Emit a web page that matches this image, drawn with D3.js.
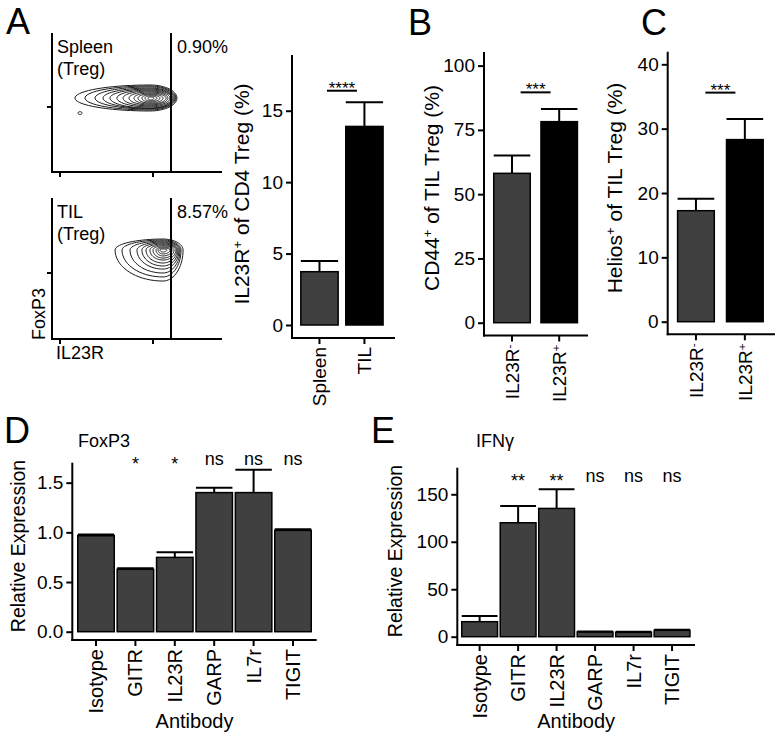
<!DOCTYPE html>
<html><head><meta charset="utf-8">
<script src="https://cdn.jsdelivr.net/npm/d3@7"></script>
<style>
body{margin:0;background:#fff}
text{font-family:"Liberation Sans",Arial,Helvetica,sans-serif;fill:#000}
</style>
</head><body>
<svg id="c" width="782" height="740"></svg>
<script>
// ================= DATA =================
// Panel A – flow plots (arbitrary 0-100 fluorescence units)
const flowTicksX = [4.7, 59.4];
const flowTicksY = [46.8];
const gateX = 70.0;
const spleenText = ["Spleen", "(Treg)"];
const tilText = ["TIL", "(Treg)"];
const spleenPct = "0.90%";
const tilPct = "8.57%";
// contour rings: core centre and left/right/top/bottom extent of each ring
const spleenCore = [57.6, 53.2];
const spleenRingL = [13.5,19.4,25.3,30.0,34.1,38.2,41.8,45.3,48.2,50.6,52.9,54.7,56.5];
const spleenRingR = [73.5,72.9,72.4,71.8,71.2,70.6,69.4,68.2,67.1,65.3,63.5,61.8,60.0];
const spleenRingT = [62.6,61.9,61.2,60.4,59.7,59.0,58.3,57.6,56.8,56.1,55.4,54.7,54.0];
const spleenRingB = [43.9,44.6,45.3,45.7,46.0,46.8,47.5,48.2,48.9,49.6,50.4,51.1,51.8];
const spleenDot = [16.5, 42.4];
const tilCore = [65.3, 63.1];
const tilRingL = [37.1,41.2,45.9,50.0,52.9,55.3,57.6,59.4,61.2,62.4,63.5];
const tilRingR = [77.1,75.9,75.3,74.7,74.1,73.5,72.9,71.8,70.6,69.4,67.6];
const tilRingT = [70.9,70.2,69.5,68.8,68.1,67.4,66.7,66.0,65.2,64.5,63.8];
const tilRingB = [41.1,44.0,46.8,49.6,51.8,53.9,56.0,57.4,58.9,60.3,61.7];

// Panel A bar chart
const aCats = ["Spleen", "TIL"];
const aVals = [3.73, 13.9];
const aErrTop = [4.48, 15.6];
const aTicks = [0, 5, 10, 15];
const aSigLevel = 16.4;
const aStars = "****";

// Panel B
const bCats = ["IL23R-", "IL23R+"];
const bVals = [58.1, 78.2];
const bErrTop = [65.0, 83.1];
const bTicks = [0, 25, 50, 75, 100];
const bSigLevel = 89.6;
const bStars = "***";

// Panel C
const cCats = ["IL23R-", "IL23R+"];
const cVals = [17.25, 28.3];
const cErrTop = [19.1, 31.5];
const cTicks = [0, 10, 20, 30, 40];
const cSigLevel = 35.6;
const cStars = "***";

// Panels D / E
const antibodies = ["Isotype", "GITR", "IL23R", "GARP", "IL7r", "TIGIT"];
const foxp3Vals = [0.966, 0.628, 0.748, 1.40, 1.40, 1.02];
const foxp3ErrTop = [0.978, 0.638, 0.80, 1.45, 1.63, 1.032];
const foxp3Sig = ["", "*", "*", "ns", "ns", "ns"];
const foxp3SigLevel = 1.73;
const foxp3Ticks = [0, 0.5, 1.0, 1.5];
const ifngVals = [15.8, 120, 135.1, 5.0, 4.6, 6.7];
const ifngErrTop = [21.8, 137.6, 155.4, 5.6, 5.2, 7.3];
const ifngSig = ["", "**", "**", "ns", "ns", "ns"];
const ifngSigLevel = 168.5;
const ifngTicks = [0, 50, 100, 150];

// ================= DRAWING =================
const svg = d3.select("#c");
const DARK = "#404040";

function label(sel, parts) {
  parts.forEach(p => {
    const t = sel.append("tspan").text(p.t);
    if (p.sup) t.attr("baseline-shift", "super").attr("font-size", "0.62em");
  });
  return sel;
}
function catParts(c) {
  const m = c.match(/^(.*?)([+-])$/);
  return m ? [{t: m[1]}, {t: m[2], sup: true}] : [{t: c}];
}

// ---------- flow plots ----------
const flowX = d3.scaleLinear().domain([0, 100]).range([52, 222]);
function flowPlot(yRange, core, L, R, T, B, texts, pct, dot) {
  const y = d3.scaleLinear().domain([0, 100]).range(yRange);
  const g = svg.append("g");
  const path = d3.line().x(d => flowX(d[0])).y(d => y(d[1])).curve(d3.curveLinearClosed);
  const N = 72;
  L.forEach((l, i) => {
    const pts = d3.range(N).map(k => {
      const a = 2 * Math.PI * k / N, c = Math.cos(a), s = Math.sin(a);
      const xr = c < 0 ? core[0] - l : R[i] - core[0];
      const yr = s > 0 ? T[i] - core[1] : core[1] - B[i];
      return [core[0] + c * xr, core[1] + s * yr];
    });
    g.append("path").attr("d", path(pts)).attr("fill", "none")
      .attr("stroke", "#1a1a1a").attr("stroke-width", 1);
  });
  if (dot) {
    const pts = d3.range(24).map(k => {
      const a = 2 * Math.PI * k / 24;
      return [dot[0] + 1.2 * Math.cos(a), dot[1] + 1.0 * Math.sin(a)];
    });
    g.append("path").attr("d", path(pts)).attr("fill", "none").attr("stroke", "#1a1a1a").attr("stroke-width", 1);
  }
  g.append("line").attr("x1", flowX(0)).attr("x2", flowX(0)).attr("y1", y(100)).attr("y2", y(0))
    .attr("stroke", "#000").attr("stroke-width", 2);
  g.append("line").attr("x1", flowX(0) - 1).attr("x2", flowX(100)).attr("y1", y(0)).attr("y2", y(0))
    .attr("stroke", "#000").attr("stroke-width", 2);
  flowTicksX.forEach(v => g.append("line").attr("x1", flowX(v)).attr("x2", flowX(v))
    .attr("y1", y(0)).attr("y2", y(0) + 5).attr("stroke", "#000").attr("stroke-width", 2));
  flowTicksY.forEach(v => g.append("line").attr("x1", flowX(0) - 5).attr("x2", flowX(0))
    .attr("y1", y(v)).attr("y2", y(v)).attr("stroke", "#000").attr("stroke-width", 2));
  g.append("line").attr("x1", flowX(gateX)).attr("x2", flowX(gateX)).attr("y1", y(100)).attr("y2", y(0))
    .attr("stroke", "#000").attr("stroke-width", 2);
  g.append("text").attr("x", flowX(0) + 5).attr("y", y(100) + 20).attr("font-size", 18).text(texts[0]);
  g.append("text").attr("x", flowX(0) + 5).attr("y", y(100) + 42).attr("font-size", 18).text(texts[1]);
  g.append("text").attr("x", flowX(gateX) + 6).attr("y", y(100) + 20).attr("font-size", 18).text(pct);
  return y;
}
flowPlot([172, 33], spleenCore, spleenRingL, spleenRingR, spleenRingT, spleenRingB, spleenText, spleenPct, spleenDot);
flowPlot([339, 198], tilCore, tilRingL, tilRingR, tilRingT, tilRingB, tilText, tilPct, null);
svg.append("text").attr("transform", "translate(45,340) rotate(-90)").attr("font-size", 18).text("FoxP3");
svg.append("text").attr("x", 56).attr("y", 359).attr("font-size", 18).text("IL23R");

// ---------- bar panels ----------
function barPanel(o) {
  const g = svg.append("g");
  const y = d3.scaleLinear().domain([0, o.yMax]).range([o.y0, o.yTop]);
  const x = d3.scaleBand().domain(o.cats).range(o.xRange).paddingInner(o.pad).paddingOuter(o.pad / 2);
  const bw = x.bandwidth();
  g.append("line").attr("x1", o.axisX).attr("x2", o.axisX).attr("y1", o.yTop).attr("y2", o.baseY + 1)
    .attr("stroke", "#000").attr("stroke-width", 2);
  g.append("line").attr("x1", o.axisX - 1).attr("x2", o.xEnd).attr("y1", o.baseY).attr("y2", o.baseY)
    .attr("stroke", "#000").attr("stroke-width", 2);
  const ag = g.append("g").attr("transform", `translate(${o.axisX},0)`)
    .call(d3.axisLeft(y).tickValues(o.ticks).tickSize(6).tickSizeOuter(0).tickPadding(3).tickFormat(o.fmt));
  ag.select(".domain").remove();
  ag.selectAll("line").attr("stroke", "#000").attr("stroke-width", 2);
  ag.selectAll("text").attr("font-size", 19).attr("font-family", null).attr("fill", "#000");
  o.cats.forEach(c => {
    const cx = x(c) + bw / 2;
    g.append("line").attr("x1", cx).attr("x2", cx).attr("y1", o.baseY).attr("y2", o.baseY + 6)
      .attr("stroke", "#000").attr("stroke-width", 2);
    const t = g.append("text").attr("transform", `translate(${cx},${o.baseY + 9}) rotate(-90)`)
      .attr("text-anchor", "end").attr("dy", "0.35em").attr("font-size", o.xTickSize || 19);
    label(t, catParts(c));
  });
  g.selectAll("rect.bar").data(o.vals).join("rect").attr("class", "bar")
    .attr("x", (d, i) => x(o.cats[i])).attr("y", d => y(d))
    .attr("width", bw).attr("height", d => y(0) - y(d))
    .attr("fill", (d, i) => o.fills[i]).attr("stroke", "#000").attr("stroke-width", 1.5);
  o.errTop.forEach((e, i) => {
    const cx = x(o.cats[i]) + bw / 2;
    g.append("line").attr("x1", cx).attr("x2", cx).attr("y1", y(o.vals[i])).attr("y2", y(e))
      .attr("stroke", "#000").attr("stroke-width", 2);
    g.append("line").attr("x1", x(o.cats[i])).attr("x2", x(o.cats[i]) + bw).attr("y1", y(e)).attr("y2", y(e))
      .attr("stroke", "#000").attr("stroke-width", 2);
  });
  if (o.sigLevel !== undefined) {
    const mid = (x(o.cats[0]) + x(o.cats[1]) + bw) / 2;
    g.append("line").attr("x1", mid - 15).attr("x2", mid + 15).attr("y1", y(o.sigLevel)).attr("y2", y(o.sigLevel))
      .attr("stroke", "#000").attr("stroke-width", 2);
    g.append("text").attr("x", mid).attr("y", y(o.sigLevel) + 3).attr("text-anchor", "middle")
      .attr("font-size", 17).text(o.stars);
  }
  if (o.ann) {
    o.ann.forEach((a, i) => {
      if (!a) return;
      const isStar = a.indexOf("*") >= 0;
      g.append("text").attr("x", x(o.cats[i]) + bw / 2).attr("y", y(o.annLevel))
        .attr("dy", isStar ? "0.57em" : "0.27em").attr("text-anchor", "middle")
        .attr("font-size", 18).text(a);
    });
  }
  const yt = g.append("text").attr("transform", `translate(${o.titleX},${o.titleY}) rotate(-90)`)
    .attr("text-anchor", "middle").attr("font-size", o.titleSize || 21);
  label(yt, o.title);
  if (o.xTitle) {
    g.append("text").attr("x", (o.axisX + o.xEnd) / 2).attr("y", 728).attr("text-anchor", "middle")
      .attr("font-size", 20).text(o.xTitle);
  }
  return g;
}

barPanel({cats: aCats, vals: aVals, errTop: aErrTop, ticks: aTicks, fmt: d3.format("d"),
  fills: [DARK, "#000"], sigLevel: aSigLevel, stars: aStars,
  axisX: 292, yTop: 55, y0: 325, baseY: 338, xEnd: 395, xRange: [297, 386.9], pad: 0.17, yMax: 18.9,
  titleX: 249, titleY: 194, title: [{t: "IL23R"}, {t: "+", sup: true}, {t: " of CD4 Treg (%)"}]});

barPanel({cats: bCats, vals: bVals, errTop: bErrTop, ticks: bTicks, fmt: d3.format("d"),
  fills: [DARK, "#000"], sigLevel: bSigLevel, stars: bStars,
  axisX: 484, yTop: 52, y0: 322.7, baseY: 335.5, xEnd: 588, xRange: [488.4, 582.8], pad: 0.227, yMax: 105.3,
  titleX: 439, titleY: 188, title: [{t: "CD44"}, {t: "+", sup: true}, {t: " of TIL Treg (%)"}]});

barPanel({cats: cCats, vals: cVals, errTop: cErrTop, ticks: cTicks, fmt: d3.format("d"),
  fills: [DARK, "#000"], sigLevel: cSigLevel, stars: cStars,
  axisX: 667.7, yTop: 51.7, y0: 321.7, baseY: 334.3, xEnd: 775, xRange: [671.5, 769.3], pad: 0.25, yMax: 41.96,
  titleX: 622, titleY: 188, title: [{t: "Helios"}, {t: "+", sup: true}, {t: " of TIL Treg (%)"}]});

barPanel({cats: antibodies, vals: foxp3Vals, errTop: foxp3ErrTop, ticks: foxp3Ticks, fmt: d3.format(".1f"),
  fills: antibodies.map(() => DARK), ann: foxp3Sig, annLevel: foxp3SigLevel, xTickSize: 20, titleSize: 19.5,
  axisX: 72.3, yTop: 462.7, y0: 631.7, baseY: 640, xEnd: 316.7, xRange: [76.3, 312.7], pad: 0.074, yMax: 1.701,
  titleX: 25, titleY: 546, title: [{t: "Relative Expression"}], xTitle: "Antibody"});

barPanel({cats: antibodies, vals: ifngVals, errTop: ifngErrTop, ticks: ifngTicks, fmt: d3.format("d"),
  fills: antibodies.map(() => DARK), ann: ifngSig, annLevel: ifngSigLevel, xTickSize: 20, titleSize: 19.5,
  axisX: 457.3, yTop: 467.7, y0: 636.7, baseY: 645, xEnd: 695, xRange: [460.4, 691.3], pad: 0.07, yMax: 178,
  titleX: 402, titleY: 551, title: [{t: "Relative Expression"}], xTitle: "Antibody"});

svg.append("text").attr("x", 78).attr("y", 447).attr("font-size", 18).text("FoxP3");
svg.append("text").attr("x", 476).attr("y", 447).attr("font-size", 18).text("IFNγ");

[["A", 6, 34], ["B", 408, 35], ["C", 641, 35], ["D", 4, 443], ["E", 371, 443]].forEach(([t, x, y]) =>
  svg.append("text").attr("x", x).attr("y", y).attr("font-size", 36).text(t));
</script>
</body></html>
